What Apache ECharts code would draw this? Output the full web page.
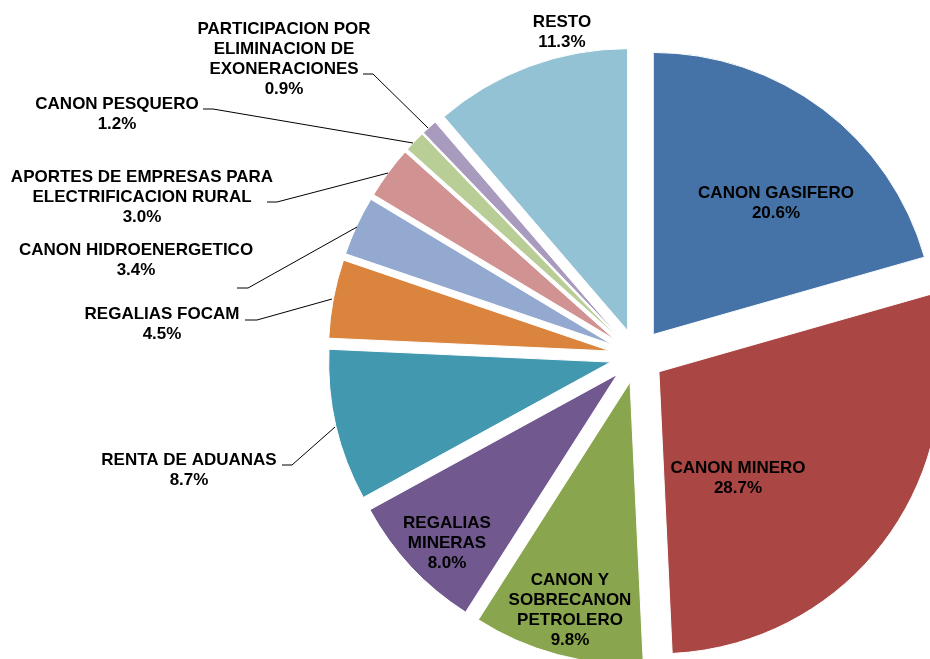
<!DOCTYPE html>
<html>
<head>
<meta charset="utf-8">
<script src="https://cdn.jsdelivr.net/npm/echarts@6.0.0/dist/echarts.min.js"></script>
<style>
  html, body { margin: 0; padding: 0; background: #fff; }
  #chart { width: 930px; height: 659px; }
</style>
</head>
<body>
<div id="chart"></div>
<script>
// slices, clockwise from 12 o'clock
var names = [
  'CANON GASIFERO',
  'CANON MINERO',
  'CANON Y\nSOBRECANON\nPETROLERO',
  'REGALIAS\nMINERAS',
  'RENTA DE ADUANAS',
  'REGALIAS FOCAM',
  'CANON HIDROENERGETICO',
  'APORTES DE EMPRESAS PARA\nELECTRIFICACION RURAL',
  'CANON PESQUERO',
  'PARTICIPACION POR\nELIMINACION DE\nEXONERACIONES',
  'RESTO'
]
var values = [20.6, 28.7, 9.8, 8.0, 8.7, 4.5, 3.4, 3.0, 1.2, 0.9, 11.3]
var colors = ['#4572A7', '#AA4643', '#89A54E', '#71588F', '#4198AF', '#DB843D',
  '#93A9CF', '#D19392', '#B9CD96', '#A99BBD', '#92C2D4']

// where each label sits (block centre) and its leader line, if any
var labelPos = [
  { x: 776, y: 203 },
  { x: 738, y: 478 },
  { x: 570, y: 610 },
  { x: 447, y: 543 },
  { x: 189, y: 470, line: [[335, 427], [292, 465], [282, 465]] },
  { x: 162, y: 324, line: [[332, 299], [257, 320], [245, 320]] },
  { x: 136, y: 260, line: [[357, 227], [248, 288], [237, 288]] },
  { x: 142, y: 197, line: [[388, 173], [277, 202], [267, 202]] },
  { x: 117, y: 114, line: [[413, 143], [213, 109], [203, 109]] },
  { x: 284, y: 59, line: [[428, 128], [373, 74], [363, 74]] },
  { x: 562, y: 32 }
]

var data = names.map(function (n, i) {
  return { name: n, value: values[i], selected: true, itemStyle: { color: colors[i] } }
})

// labels + leader lines drawn as graphic elements (pie select state
// would otherwise pull them back to the default spots)
var graphics = []
names.forEach(function (n, i) {
  var lp = labelPos[i]
  if (lp.line) {
    graphics.push({
      type: 'polyline',
      z: 100,
      shape: { points: lp.line },
      style: { stroke: '#000', lineWidth: 1, fill: null },
      silent: true
    })
  }
  graphics.push({
    type: 'text',
    z: 100,
    x: lp.x,
    y: lp.y,
    silent: true,
    style: {
      text: n + '\n' + values[i].toFixed(1) + '%',
      fill: '#000',
      font: 'bold 17px "Liberation Sans", Arial, sans-serif',
      lineHeight: 20,
      align: 'center',
      verticalAlign: 'middle'
    }
  })
})

var chart = echarts.init(document.getElementById('chart'))
chart.setOption({
  animation: false,
  series: [{
    type: 'pie',
    center: [637, 356],
    radius: 282,
    startAngle: 90,
    clockwise: true,
    selectedMode: 'multiple',
    selectedOffset: 27,
    itemStyle: { borderColor: '#fff', borderWidth: 1 },
    select: { itemStyle: { borderColor: '#fff', borderWidth: 1 } },
    emphasis: { disabled: true },
    label: { show: false },
    labelLine: { show: false },
    data: data
  }],
  graphic: graphics
})
</script>
</body>
</html>
